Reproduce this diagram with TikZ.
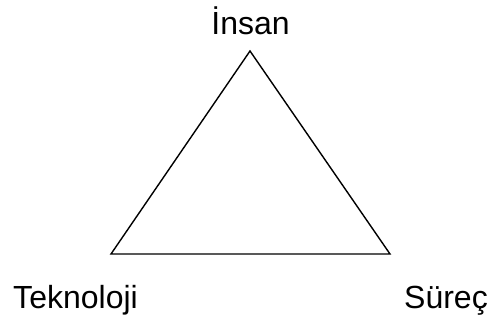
\documentclass[tikz,border=0pt]{standalone}
\usepackage{fontspec}
\setmainfont{Liberation Sans}
\usetikzlibrary{positioning}

\begin{document}
\begin{tikzpicture}[
  x=1pt, y=-1pt,
  label/.style={font=\fontsize{32}{38}\selectfont, inner sep=0pt, anchor=base},
  side/.style={line width=1.4pt, line join=miter},
]
\useasboundingbox (0,0) rectangle (488,320);

\coordinate (top) at (250,51);
\coordinate (left) at (111,254);
\coordinate (right) at (390,254);
\draw[side] (top) -- (right) -- (left) -- cycle;

\node[label] (insan) at (250.5,35) {İnsan};
\node[label] (teknoloji) at (75.5,309) {Teknoloji};
\node[label] (surec) at (446,309) {Süreç};

\end{tikzpicture}
\end{document}
